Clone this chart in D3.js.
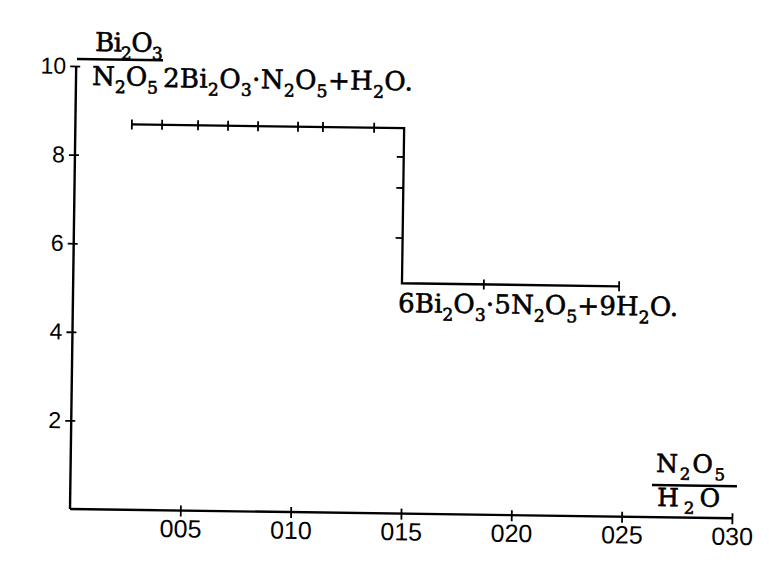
<!DOCTYPE html>
<html><head><meta charset="utf-8">
<script src="https://cdn.jsdelivr.net/npm/d3@7"></script>
<style>body{margin:0;background:#fff}</style>
</head><body>
<svg id="c" width="769" height="566"></svg>
<script>
// ---- data ----
const xTickValues = [0.05, 0.10, 0.15, 0.20, 0.25, 0.30];
const xTickLabels = ["005", "010", "015", "020", "025", "030"];
const yTickValues = [2, 4, 6, 8, 10];
const yTickLabels = ["2", "4", "6", "8", "10"];
// step outline (N2O5/H2O, Bi2O3/N2O5)
const stepX = [0.0256, 0.149, 0.149, 0.2474];
const stepY = [8.7, 8.7, 5.2, 5.2];
// measured points on the horizontal runs
const hPointX = [0.0256, 0.0393, 0.0556, 0.0692, 0.0828, 0.1009, 0.1122, 0.1354, 0.1861, 0.2474];
const hPointY = [8.7, 8.7, 8.7, 8.7, 8.7, 8.7, 8.7, 8.7, 5.2, 5.2];
// measured points on the vertical run
const vPointX = [0.149, 0.149, 0.149];
const vPointY = [8.05, 7.35, 6.22];
// phase labels
const phase1 = [["2",0],["Bi",0],["2",1],["O",0],["3",1],["·",0],["N",0],["2",1],["O",0],["5",1],["+",0],["H",0],["2",1],["O",0],[".",0]];
const phase2 = [["6",0],["Bi",0],["2",1],["O",0],["3",1],["·",0],["5",0],["N",0],["2",1],["O",0],["5",1],["+",0],["9",0],["H",0],["2",1],["O",0],[".",0]];
const yNum = [["Bi",0],["2",1],["O",0],["3",1]];
const yDen = [["N",0],["2",1],["O",0],["5",1]];
const xNum = [["N",0],["2",1],["O",0],["5",1]];
const xDen = [["H",0],["2",1],["O",0]];

// ---- layout ----
const ANG = 0.8, OX = 70, OY = 509;
const svg = d3.select("#c");
const g = svg.append("g").attr("transform", `rotate(${ANG},${OX},${OY})`);
function inv(px, py) {
  const a = -ANG * Math.PI / 180, dx = px - OX, dy = py - OY;
  return [OX + dx * Math.cos(a) - dy * Math.sin(a), OY + dx * Math.sin(a) + dy * Math.cos(a)];
}
const x = d3.scaleLinear().domain([0, 0.30]).range([70, 732]);
const y = d3.scaleLinear().domain([0, 10]).range([509, 66]);
const ink = "#000";

// axes
const xAxis = d3.axisBottom(x).tickValues(xTickValues).tickSize(6)
  .tickFormat((d, i) => xTickLabels[i]);
const xg = g.append("g").attr("transform", `translate(0,${y(0)})`).call(xAxis);
xg.select(".domain").remove();
xg.selectAll(".tick line").attr("y1", -5).attr("stroke", ink).attr("stroke-width", 1.8);
xg.selectAll(".tick text").attr("y", 9).attr("dy", "0.71em")
  .attr("font-family", "Liberation Sans, Arial, sans-serif").attr("font-size", 25)
  .attr("fill", ink);
g.append("line").attr("x1", x(0)).attr("x2", x(0.30)).attr("y1", y(0)).attr("y2", y(0))
  .attr("stroke", ink).attr("stroke-width", 2.4);

const yAxis = d3.axisLeft(y).tickValues(yTickValues).tickSize(6)
  .tickFormat((d, i) => yTickLabels[i]);
const yg = g.append("g").attr("transform", `translate(${x(0)},0)`).call(yAxis);
yg.select(".domain").remove();
yg.selectAll(".tick line").attr("x1", 4).attr("stroke", ink).attr("stroke-width", 1.8);
yg.selectAll(".tick text").attr("x", -10).attr("dy", "0.32em")
  .attr("font-family", "Liberation Sans, Arial, sans-serif").attr("font-size", 23)
  .attr("fill", ink);
g.append("line").attr("x1", x(0)).attr("x2", x(0)).attr("y1", y(0)).attr("y2", y(10))
  .attr("stroke", ink).attr("stroke-width", 2.4);

// step line
const pts = stepX.map((v, i) => [x(v), y(stepY[i])]);
g.append("path").attr("d", d3.line()(pts)).attr("fill", "none")
  .attr("stroke", ink).attr("stroke-width", 2.3);
g.selectAll(".hp").data(hPointX).join("line").attr("class", "hp")
  .attr("x1", d => x(d)).attr("x2", d => x(d))
  .attr("y1", (d, i) => y(hPointY[i]) - 5).attr("y2", (d, i) => y(hPointY[i]) + 5)
  .attr("stroke", ink).attr("stroke-width", 1.8);
g.selectAll(".vp").data(vPointX).join("line").attr("class", "vp")
  .attr("x1", d => x(d) - 7).attr("x2", d => x(d))
  .attr("y1", (d, i) => y(vPointY[i])).attr("y2", (d, i) => y(vPointY[i]))
  .attr("stroke", ink).attr("stroke-width", 1.8);

// formula helper
function formula(segs, px, py, size, width) {
  const p = inv(px, py);
  const t = g.append("text").attr("x", p[0]).attr("y", p[1])
    .attr("font-family", "DejaVu Serif, serif").attr("font-size", size)
    .attr("fill", ink).attr("stroke", ink).attr("stroke-width", 0.6);
  let low = false;
  const sh = size * 0.3;
  segs.forEach(([s, sub]) => {
    const ts = t.append("tspan").text(s);
    if (sub) { ts.attr("font-size", size * 0.66); if (!low) { ts.attr("dy", sh); low = true; } }
    else if (low) { ts.attr("dy", -sh); low = false; }
  });
  if (width) {
    const len = t.node().getComputedTextLength();
    const n = segs.reduce((a, s) => a + s[0].length, 0);
    t.attr("letter-spacing", (width - len) / n);
  }
  return t;
}
function rule(px1, px2, py) {
  const a = inv(px1, py);
  g.append("line").attr("x1", a[0]).attr("x2", a[0] + (px2 - px1)).attr("y1", a[1]).attr("y2", a[1])
    .attr("stroke", ink).attr("stroke-width", 2.4);
}

formula(yNum, 95, 51, 26, 67);
rule(77, 163, 59);
formula(yDen, 92, 85, 26, 66);
formula(phase1, 163, 87, 26, 250);
formula(phase2, 398, 312, 26, 280);
formula(xNum, 656, 472, 25, 71);
rule(652, 737, 485);
formula(xDen, 657, 506, 25, 68);
</script>
</body></html>
